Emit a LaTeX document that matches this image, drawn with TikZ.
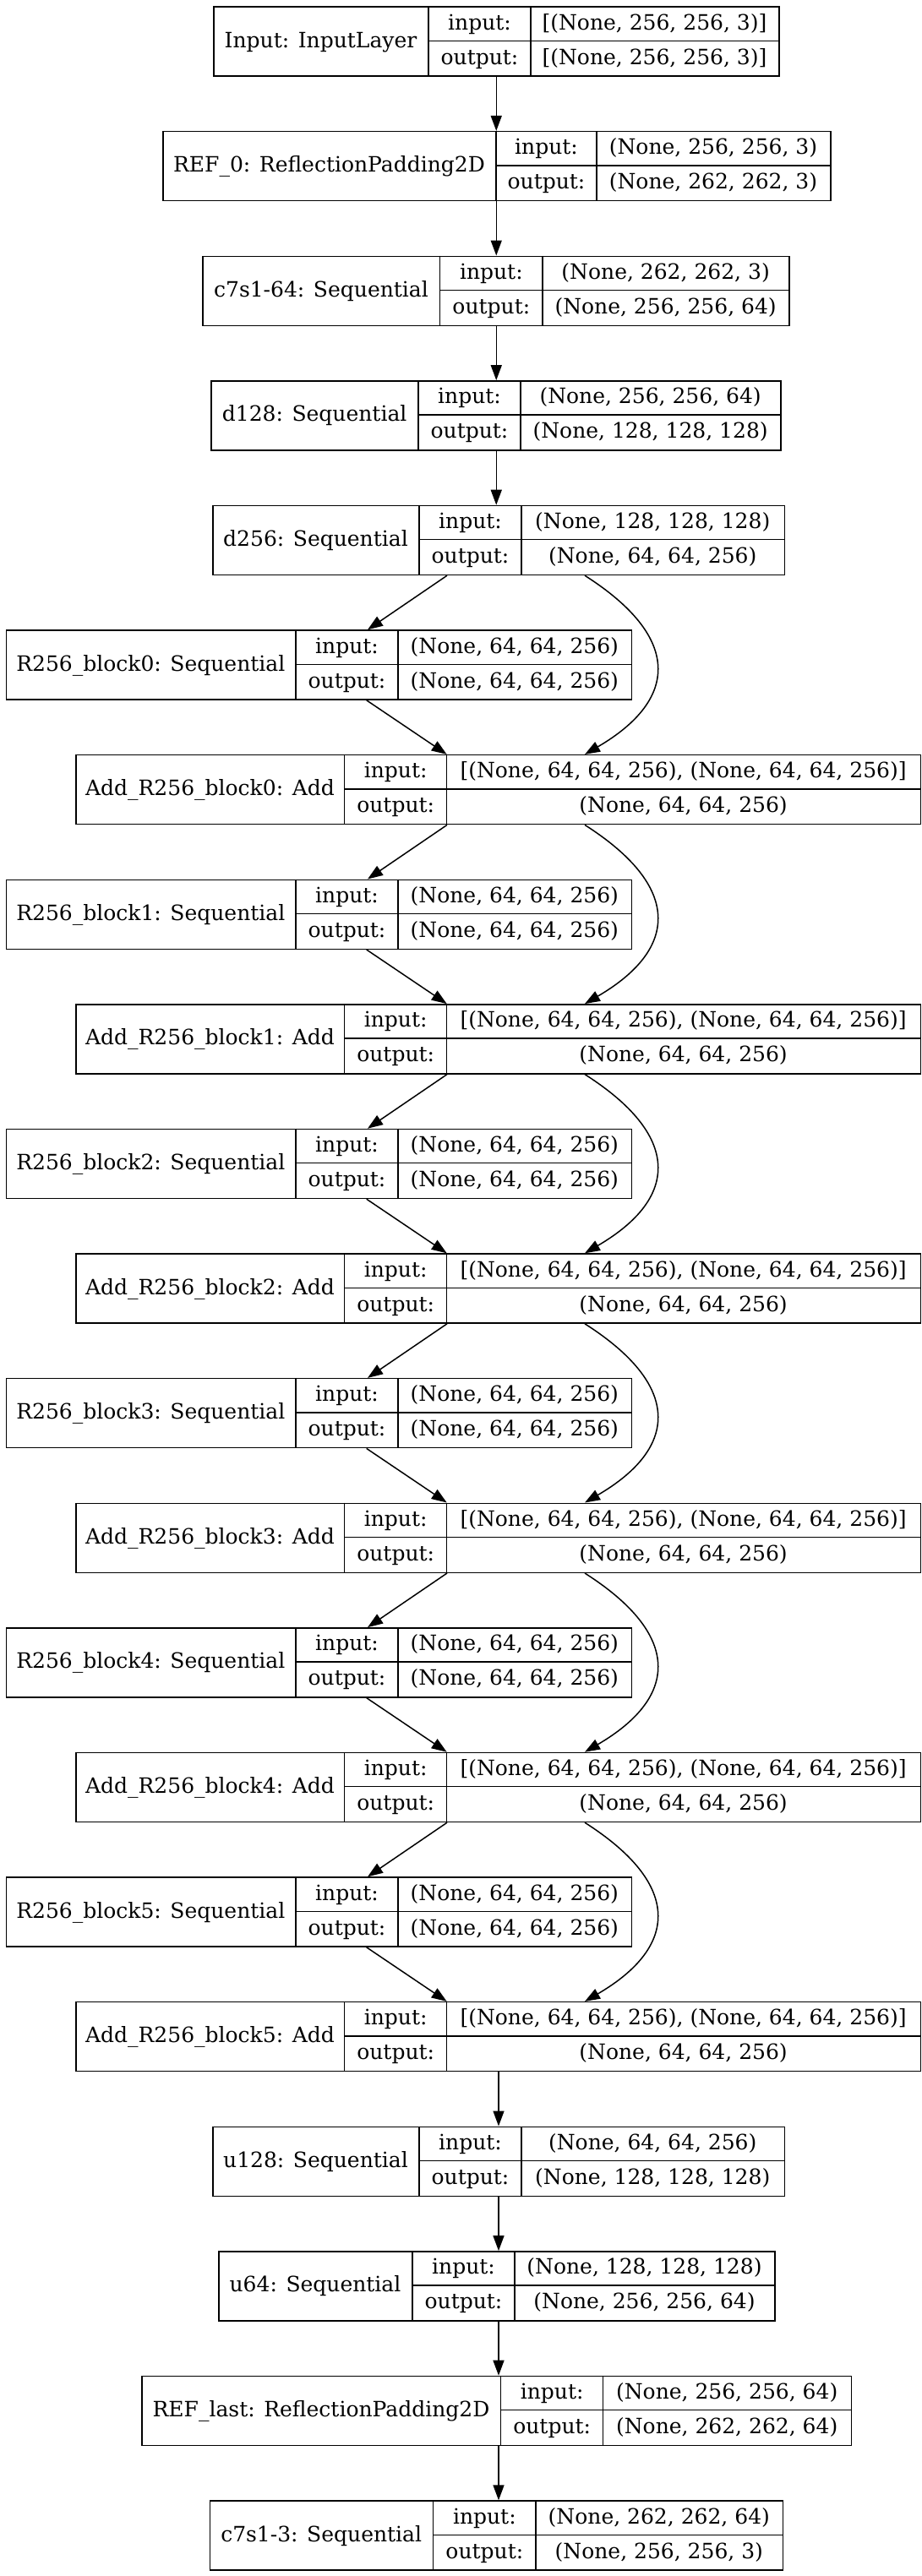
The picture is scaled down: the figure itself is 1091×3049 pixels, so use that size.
\documentclass[tikz,border=0pt]{standalone}
\usepackage{fontspec}
\setmainfont{DejaVu Serif}
\usetikzlibrary{arrows.meta}
\tikzset{
  rec/.style={draw=black, line width=1.5pt, fill=white, inner sep=0pt, anchor=north west},
  sepline/.style={draw=black, line width=1.5pt},
  txt/.style={anchor=base, inner sep=0pt, font=\fontsize{25}{30}\selectfont},
  conn/.style={draw=black, line width=1.5pt, -{Triangle[length=18pt,width=13pt]}},
}
% name, top, xl, c1, c2, xr, label, in, out
\newcommand\layer[9]{%
  \node[rec, minimum width={#6pt-#3pt}, minimum height=82pt] (#1) at (#3,#2) {};
  \draw[sepline] (#4,#2) -- (#4,{#2+82});
  \draw[sepline] (#5,#2) -- (#5,{#2+82});
  \draw[sepline] (#4,{#2+41}) -- (#6,{#2+41});
  \node[txt] (#1-l) at ({(#3+#4)/2},{#2+48.7}) {#7};
  \node[txt] (#1-ik) at ({(#4+#5)/2},{#2+27.7}) {input:};
  \node[txt] (#1-ok) at ({(#4+#5)/2},{#2+68.7}) {output:};
  \node[txt] (#1-iv) at ({(#5+#6)/2},{#2+27.7}) {#8};
  \node[txt] (#1-ov) at ({(#5+#6)/2},{#2+68.7}) {#9};
}
% prev, left tail shift, right tail shift, R node, Add node
\newcommand\resid[5]{%
  \draw[conn] ([xshift=#2pt]#1.south west) -- ([xshift=428.3pt]#4.north west);
  \draw[conn] ([xshift=427pt]#4.south west) -- ([xshift=439.4pt]#5.north west);
  \draw[conn] ([xshift=#3pt]#1.south west) .. controls +(113,72) and +(113,-66) .. ([xshift=602.7pt]#5.north west);
}
\begin{document}
\begin{tikzpicture}[x=1pt,y=-1pt]
\useasboundingbox[fill=white] (0,0) rectangle (1091,3049);

\layer{in}{7.3}{252}{507}{628}{921}{Input: InputLayer}{[(None, 256, 256, 3)]}{[(None, 256, 256, 3)]}
\layer{ref0}{154.9}{192}{587}{706}{982}{REF\_0: ReflectionPadding2D}{(None, 256, 256, 3)}{(None, 262, 262, 3)}
\layer{c64}{302.5}{239.3}{520.7}{642}{933.3}{c7s1-64: Sequential}{(None, 262, 262, 3)}{(None, 256, 256, 64)}
\layer{d128}{450.1}{249.3}{495}{616}{923.3}{d128: Sequential}{(None, 256, 256, 64)}{(None, 128, 128, 128)}
\layer{d256}{597.7}{251}{496}{617}{927.5}{d256: Sequential}{(None, 128, 128, 128)}{(None, 64, 64, 256)}

\layer{r0}{745.3}{6.7}{350}{471}{746.7}{R256\_block0: Sequential}{(None, 64, 64, 256)}{(None, 64, 64, 256)}
\layer{a0}{892.9}{89.3}{407.7}{528.7}{1088.5}{Add\_R256\_block0: Add}{[(None, 64, 64, 256), (None, 64, 64, 256)]}{(None, 64, 64, 256)}
\layer{r1}{1040.5}{6.7}{350}{471}{746.7}{R256\_block1: Sequential}{(None, 64, 64, 256)}{(None, 64, 64, 256)}
\layer{a1}{1188.1}{89.3}{407.7}{528.7}{1088.5}{Add\_R256\_block1: Add}{[(None, 64, 64, 256), (None, 64, 64, 256)]}{(None, 64, 64, 256)}
\layer{r2}{1335.7}{6.7}{350}{471}{746.7}{R256\_block2: Sequential}{(None, 64, 64, 256)}{(None, 64, 64, 256)}
\layer{a2}{1483.3}{89.3}{407.7}{528.7}{1088.5}{Add\_R256\_block2: Add}{[(None, 64, 64, 256), (None, 64, 64, 256)]}{(None, 64, 64, 256)}
\layer{r3}{1630.9}{6.7}{350}{471}{746.7}{R256\_block3: Sequential}{(None, 64, 64, 256)}{(None, 64, 64, 256)}
\layer{a3}{1778.5}{89.3}{407.7}{528.7}{1088.5}{Add\_R256\_block3: Add}{[(None, 64, 64, 256), (None, 64, 64, 256)]}{(None, 64, 64, 256)}
\layer{r4}{1926.1}{6.7}{350}{471}{746.7}{R256\_block4: Sequential}{(None, 64, 64, 256)}{(None, 64, 64, 256)}
\layer{a4}{2073.7}{89.3}{407.7}{528.7}{1088.5}{Add\_R256\_block4: Add}{[(None, 64, 64, 256), (None, 64, 64, 256)]}{(None, 64, 64, 256)}
\layer{r5}{2221.3}{6.7}{350}{471}{746.7}{R256\_block5: Sequential}{(None, 64, 64, 256)}{(None, 64, 64, 256)}
\layer{a5}{2368.9}{89.3}{407.7}{528.7}{1088.5}{Add\_R256\_block5: Add}{[(None, 64, 64, 256), (None, 64, 64, 256)]}{(None, 64, 64, 256)}

\layer{u128}{2516.5}{251}{496}{617}{927.5}{u128: Sequential}{(None, 64, 64, 256)}{(None, 128, 128, 128)}
\layer{u64}{2664.1}{258}{488}{609}{916}{u64: Sequential}{(None, 128, 128, 128)}{(None, 256, 256, 64)}
\layer{refl}{2811.7}{167.3}{592.7}{713.7}{1006.7}{REF\_last: ReflectionPadding2D}{(None, 256, 256, 64)}{(None, 262, 262, 64)}
\layer{c3}{2959.3}{247.7}{512.7}{634}{925.7}{c7s1-3: Sequential}{(None, 262, 262, 64)}{(None, 256, 256, 3)}

% straight connectors
\draw[conn] (in.south) -- (in.south |- ref0.north);
\draw[conn] (in.south |- ref0.south) -- (in.south |- c64.north);
\draw[conn] (in.south |- c64.south) -- (in.south |- d128.north);
\draw[conn] (in.south |- d128.south) -- (in.south |- d256.north);

% residual blocks
\resid{d256}{278}{441}{r0}{a0}
\resid{a0}{439.7}{602.7}{r1}{a1}
\resid{a1}{439.7}{602.7}{r2}{a2}
\resid{a2}{439.7}{602.7}{r3}{a3}
\resid{a3}{439.7}{602.7}{r4}{a4}
\resid{a4}{439.7}{602.7}{r5}{a5}

\draw[conn] (u128.north |- a5.south) -- (u128.north);
\draw[conn] (u128.south) -- (u128.south |- u64.north);
\draw[conn] (u128.south |- u64.south) -- (u128.south |- refl.north);
\draw[conn] (u128.south |- refl.south) -- (u128.south |- c3.north);
\end{tikzpicture}
\end{document}
